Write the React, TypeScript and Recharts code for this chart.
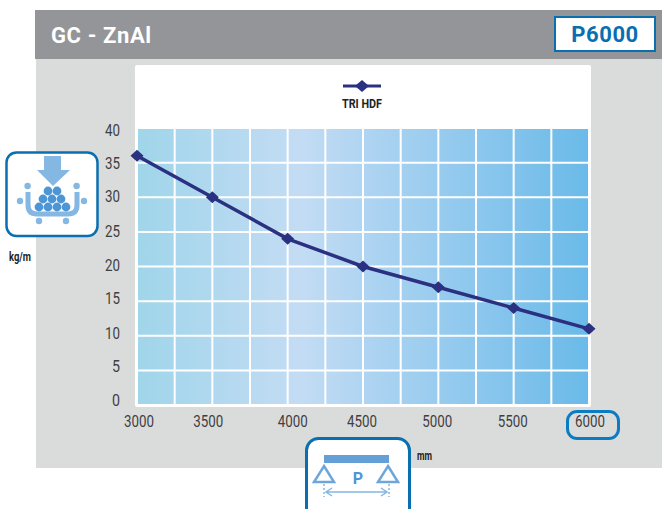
import React from "react";
import {
  CartesianGrid,
  Legend,
  Line,
  LineChart,
  XAxis,
  YAxis,
} from "recharts";

const spans = [3000, 3500, 4000, 4500, 5000, 5500, 6000];
const loads = [36, 30, 24, 20, 17, 14, 11];
const yTicks = [0, 5, 10, 15, 20, 25, 30, 35, 40];
const gridX = [3000, 3250, 3500, 3750, 4000, 4250, 4500, 4750, 5000, 5250, 5500, 5750, 6000];
const seriesName = "TRI HDF";

// the printed labels do not sit exactly on their grid lines
const xTickNudge = [2, -4, 5, -1, -1, -1, 1];
const yTickNudge = [-5, -4, -3, -3, -2, -1, -1, 0, 2];

const FONT = "Roboto, sans-serif";
const NAVY = "#2b3180";
const TEXT = "#3f3f41";
const BLUE = "#0a6fb0";
const ICON = "#85b7e3";
const ICON_DARK = "#4d96d6";

const data = spans.map((span, i) => ({ span, load: loads[i] }));

const Diamond = (props: any) => {
  const { cx, cy } = props;
  return <path d={`M${cx - 6.5} ${cy}L${cx} ${cy - 6}L${cx + 6.5} ${cy}L${cx} ${cy + 6}Z`} fill={NAVY} />;
};

const XTick = (props: any) => {
  const { x, y, index, payload } = props;
  return (
    <text
      x={x + xTickNudge[index]}
      y={y + 14}
      textAnchor="middle"
      fontSize={17}
      fontFamily={FONT}
      fill={TEXT}
      textLength={30}
      lengthAdjust="spacingAndGlyphs"
    >
      {payload.value}
    </text>
  );
};

const YTick = (props: any) => {
  const { y, index, payload } = props;
  const wide = String(payload.value).length > 1;
  return (
    <text
      x={120}
      y={y + 6 + yTickNudge[index]}
      textAnchor="end"
      fontSize={17}
      fontFamily={FONT}
      fill={TEXT}
      textLength={wide ? 15 : 8}
      lengthAdjust="spacingAndGlyphs"
    >
      {payload.value}
    </text>
  );
};

const LegendBox = () => (
  <div style={{ width: 60, margin: "0 auto", textAlign: "center", fontFamily: FONT, fontWeight: 700, color: "#222" }}>
    <svg width={40} height={14} style={{ display: "block", margin: "0 auto" }}>
      <line x1={1} x2={39} y1={7} y2={7} stroke={NAVY} strokeWidth={3} />
      <path d="M13 7L20 1L27 7L20 13Z" fill={NAVY} />
    </svg>
    <svg width={60} height={16} style={{ display: "block", marginTop: 2 }}>
      <text x={30} y={13} textAnchor="middle" fontSize={13} fontWeight={700} fill="#222" textLength={40} lengthAdjust="spacingAndGlyphs">
        {seriesName}
      </text>
    </svg>
  </div>
);

export default function App() {
  return (
    <div style={{ position: "relative", width: 662, height: 509, overflow: "hidden", background: "#fff" }}>
      <style>{"body { margin: 0; }"}</style>
      <div style={{ position: "absolute", left: 36, top: 59, width: 626, height: 409, background: "#dadcdc" }} />
      <div style={{ position: "absolute", left: 35, top: 10, width: 627, height: 49, background: "#939598" }} />
      <div style={{ position: "absolute", left: 51, top: 21, color: "#fff", fontFamily: FONT, fontWeight: 700, fontSize: 22, lineHeight: "30px", letterSpacing: 0.6 }}>
        GC - ZnAl
      </div>
      <div style={{ position: "absolute", left: 554, top: 16, width: 98, height: 32, border: `2px solid ${BLUE}`, background: "#fff", textAlign: "center", color: BLUE, fontFamily: FONT, fontWeight: 700, fontSize: 22, lineHeight: "33px", letterSpacing: 0.6 }}>
        P6000
      </div>
      <div style={{ position: "absolute", left: 135, top: 65, width: 456, height: 342, background: "#fff", borderRadius: 2 }} />

      <div style={{ position: "absolute", left: 0, top: 0 }}>
        <LineChart
          width={662}
          height={509}
          data={data}
          margin={{ top: 78, right: 73, bottom: 74, left: 97 }}
        >
          <defs>
            <linearGradient id="plotFill" x1="0" y1="0" x2="1" y2="0">
              <stop offset="0" stopColor="#a0d5ea" />
              <stop offset="0.36" stopColor="#c3dcf4" />
              <stop offset="1" stopColor="#6abae9" />
            </linearGradient>
          </defs>
          <CartesianGrid
            fill="url(#plotFill)"
            fillOpacity={1}
            stroke="#fff"
            strokeWidth={2}
            verticalValues={gridX}
            horizontalValues={yTicks}
          />
          <XAxis
            dataKey="span"
            type="number"
            domain={[3000, 6000]}
            ticks={spans}
            interval={0}
            axisLine={false}
            tickLine={false}
            height={30}
            tick={<XTick />}
          />
          <YAxis
            type="number"
            domain={[0, 40]}
            ticks={yTicks}
            interval={0}
            axisLine={false}
            tickLine={false}
            width={40}
            tick={<YTick />}
          />
          <Legend
            verticalAlign="top"
            height={50}
            wrapperStyle={{ top: 79, left: 135, width: 454 }}
            content={<LegendBox />}
          />
          <Line
            dataKey="load"
            name={seriesName}
            stroke={NAVY}
            strokeWidth={3.5}
            dot={<Diamond />}
            activeDot={false}
            isAnimationActive={false}
          />
        </LineChart>
      </div>

      {/* highlight around the 6000 tick */}
      <div style={{ position: "absolute", left: 566, top: 410, width: 48, height: 24, border: "3px solid #0b7cc2", borderRadius: 11 }} />

      {/* unit labels */}
      <svg style={{ position: "absolute", left: 0, top: 245 }} width={40} height={20}>
        <text x={9} y={16} fontFamily={FONT} fontWeight={700} fontSize={13} fill="#222" textLength={22} lengthAdjust="spacingAndGlyphs">kg/m</text>
      </svg>
      <svg style={{ position: "absolute", left: 410, top: 445 }} width={30} height={20}>
        <text x={7} y={15} fontFamily={FONT} fontWeight={700} fontSize={12} fill="#222" textLength={15} lengthAdjust="spacingAndGlyphs">mm</text>
      </svg>

      {/* load icon */}
      <svg style={{ position: "absolute", left: 0, top: 145 }} width={105} height={100} viewBox="0 145 105 100">
        <rect x={6.5} y={152.5} width={91} height={83.5} rx={10} fill="#fff" stroke={BLUE} strokeWidth={2.5} />
        <path d="M44 156H61V170H70L53 186L37 170H44Z" fill={ICON} />
        <path d="M28 192V205Q28 214 37 214H68Q77 214 77 205V192" fill="none" stroke={ICON} strokeWidth={5} />
        {[[48, 191], [57, 191], [43, 199], [52, 199], [61, 199], [39, 207], [48, 207], [57, 207], [66, 207]].map(([x, y]) => (
          <circle key={`${x}-${y}`} cx={x} cy={y} r={4.4} fill={ICON_DARK} />
        ))}
        {[[27.6, 186], [76.6, 186], [20, 201], [84, 201], [39, 221], [66, 221]].map(([x, y]) => (
          <circle key={`${x}-${y}`} cx={x} cy={y} r={3.2} fill={ICON} />
        ))}
      </svg>

      {/* span icon */}
      <svg style={{ position: "absolute", left: 300, top: 430 }} width={120} height={79} viewBox="300 430 120 79">
        <rect x={306.5} y={438.5} width={103} height={90} rx={12} fill="#fff" stroke={BLUE} strokeWidth={3} />
        <rect x={324} y={455} width={65} height={8} fill="#659fd8" />
        <path d="M324 466L334 482H314Z M388 466L398 482H378Z" fill="none" stroke="#6ea6dc" strokeWidth={2.5} />
        <text x={358} y={484} textAnchor="middle" fontFamily={FONT} fontWeight={700} fontSize={16} fill={ICON_DARK}>P</text>
        <path d="M324 484V497M389 484V497" stroke={ICON} strokeWidth={1.5} strokeDasharray="2 2" />
        <path d="M326 492H387M332 488L326 492L332 496M381 488L387 492L381 496" fill="none" stroke={ICON} strokeWidth={1.5} />
      </svg>
    </div>
  );
}
